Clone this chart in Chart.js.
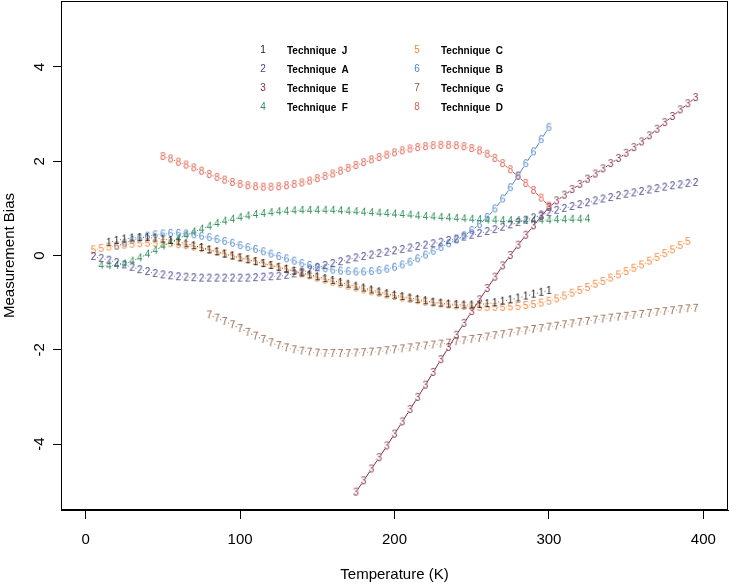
<!DOCTYPE html>
<html>
<head>
<meta charset="utf-8">
<script src="https://cdn.jsdelivr.net/npm/chart.js@4.4.0/dist/chart.umd.min.js"></script>
<style>
  html, body { margin: 0; padding: 0; background: #fff; }
  #wrap { position: relative; width: 729px; height: 586px; }
  #legend { position: absolute; left: 0; top: 0; font-family: "Liberation Sans", Arial, sans-serif; }
  .sym { position: absolute; font-size: 10px; line-height: 12px; width: 10px; text-align: center; }
  .lab { position: absolute; font-size: 10px; line-height: 12px; font-weight: bold; color: #000; white-space: pre; }
</style>
</head>
<body>
<div id="wrap">
  <canvas id="biasChart" width="729" height="586"></canvas>
  <div id="legend"></div>
</div>
<script>
// temperature grid (K) shared by all techniques
var tempK = [5, 10, 15, 20, 25, 30, 35, 40, 45, 50, 55, 60, 65, 70, 75, 80, 85, 90, 95, 100,
  105, 110, 115, 120, 125, 130, 135, 140, 145, 150, 155, 160, 165, 170, 175, 180, 185, 190, 195, 200,
  205, 210, 215, 220, 225, 230, 235, 240, 245, 250, 255, 260, 265, 270, 275, 280, 285, 290, 295, 300,
  305, 310, 315, 320, 325, 330, 335, 340, 345, 350, 355, 360, 365, 370, 375, 380, 385, 390, 395];

var names   = ['Technique J', 'Technique A', 'Technique E', 'Technique F',
               'Technique C', 'Technique B', 'Technique G', 'Technique D'];
var symbols = ['1', '2', '3', '4', '5', '6', '7', '8'];
var colors  = ['#222222', '#44448c', '#82294a', '#2f8f5a', '#f2873a', '#4a84cc', '#8e5b3d', '#df5e4c'];
var firstK  = [15, 5, 175, 10, 5, 20, 80, 50];

var biasJ = [0.28, 0.32, 0.35, 0.37, 0.38, 0.38, 0.37, 0.35, 0.32, 0.29,
  0.25, 0.21, 0.17, 0.12, 0.08, 0.03, -0.01, -0.05, -0.09, -0.13,
  -0.17, -0.21, -0.25, -0.29, -0.33, -0.37, -0.41, -0.45, -0.49, -0.53,
  -0.57, -0.61, -0.65, -0.69, -0.73, -0.77, -0.81, -0.84, -0.87, -0.9,
  -0.93, -0.96, -0.99, -1.01, -1.03, -1.04, -1.05, -1.05, -1.04, -1.02,
  -1.0, -0.97, -0.94, -0.9, -0.86, -0.82, -0.78, -0.74];

var biasA = [-0.02, -0.06, -0.1, -0.15, -0.2, -0.25, -0.3, -0.34, -0.38, -0.41,
  -0.43, -0.45, -0.46, -0.47, -0.48, -0.48, -0.48, -0.48, -0.48, -0.48,
  -0.48, -0.47, -0.46, -0.45, -0.44, -0.42, -0.39, -0.35, -0.31, -0.26,
  -0.21, -0.17, -0.13, -0.09, -0.05, -0.02, 0.01, 0.04, 0.07, 0.1,
  0.13, 0.16, 0.19, 0.22, 0.25, 0.28, 0.32, 0.35, 0.39, 0.43,
  0.47, 0.51, 0.55, 0.6, 0.65, 0.7, 0.75, 0.8, 0.86, 0.91,
  0.96, 1.0, 1.04, 1.08, 1.12, 1.16, 1.2, 1.23, 1.27, 1.3,
  1.33, 1.36, 1.39, 1.42, 1.45, 1.48, 1.5, 1.53, 1.55];

var biasE = [-5.02, -4.78, -4.53, -4.29, -4.04, -3.79, -3.53, -3.27, -3.01, -2.75,
  -2.48, -2.21, -1.95, -1.69, -1.44, -1.19, -0.94, -0.7, -0.46, -0.22,
  0.0, 0.22, 0.43, 0.63, 0.83, 1.02, 1.16, 1.28, 1.4, 1.51,
  1.62, 1.73, 1.84, 1.95, 2.06, 2.17, 2.29, 2.41, 2.54, 2.68,
  2.82, 2.95, 3.09, 3.22, 3.35];

var biasF = [-0.21, -0.22, -0.21, -0.18, -0.12, -0.05, 0.03, 0.11, 0.2, 0.28,
  0.36, 0.43, 0.5, 0.56, 0.62, 0.68, 0.73, 0.77, 0.81, 0.84,
  0.87, 0.89, 0.91, 0.93, 0.94, 0.95, 0.96, 0.96, 0.96, 0.96,
  0.96, 0.95, 0.94, 0.93, 0.92, 0.91, 0.9, 0.89, 0.88, 0.87,
  0.86, 0.84, 0.83, 0.82, 0.81, 0.8, 0.79, 0.78, 0.77, 0.76,
  0.75, 0.75, 0.74, 0.74, 0.74, 0.74, 0.74, 0.75, 0.75, 0.76,
  0.76, 0.77, 0.77, 0.78];

var biasC = [0.12, 0.15, 0.18, 0.2, 0.22, 0.24, 0.25, 0.26, 0.26, 0.26,
  0.25, 0.23, 0.21, 0.18, 0.15, 0.11, 0.07, 0.03, -0.01, -0.05,
  -0.09, -0.13, -0.17, -0.21, -0.25, -0.3, -0.34, -0.39, -0.43, -0.48,
  -0.52, -0.57, -0.61, -0.65, -0.69, -0.73, -0.77, -0.8, -0.84, -0.87,
  -0.9, -0.93, -0.96, -0.99, -1.01, -1.03, -1.05, -1.07, -1.08, -1.09,
  -1.1, -1.1, -1.1, -1.1, -1.09, -1.08, -1.06, -1.04, -1.01, -0.97,
  -0.92, -0.86, -0.8, -0.74, -0.68, -0.61, -0.55, -0.48, -0.41, -0.34,
  -0.27, -0.2, -0.12, -0.04, 0.04, 0.12, 0.21, 0.3];

var biasB = [0.2, 0.26, 0.32, 0.37, 0.41, 0.44, 0.46, 0.47, 0.47, 0.46,
  0.44, 0.41, 0.38, 0.34, 0.3, 0.26, 0.21, 0.17, 0.13, 0.08,
  0.03, -0.02, -0.07, -0.12, -0.17, -0.21, -0.25, -0.28, -0.31, -0.33,
  -0.34, -0.35, -0.35, -0.34, -0.32, -0.29, -0.25, -0.2, -0.14, -0.07,
  0.01, 0.09, 0.17, 0.25, 0.33, 0.42, 0.53, 0.66, 0.81, 0.99,
  1.2, 1.44, 1.69, 1.95, 2.2, 2.46, 2.72];

var biasG = [-1.26, -1.33, -1.4, -1.47, -1.55, -1.63, -1.71, -1.78, -1.85, -1.91,
  -1.96, -2.0, -2.03, -2.05, -2.07, -2.08, -2.08, -2.08, -2.08, -2.07,
  -2.06, -2.05, -2.04, -2.02, -2.0, -1.98, -1.96, -1.94, -1.92, -1.9,
  -1.88, -1.86, -1.83, -1.81, -1.78, -1.76, -1.73, -1.7, -1.68, -1.65,
  -1.62, -1.6, -1.57, -1.55, -1.52, -1.5, -1.47, -1.45, -1.42, -1.4,
  -1.37, -1.35, -1.33, -1.31, -1.29, -1.27, -1.25, -1.23, -1.21, -1.19,
  -1.17, -1.15, -1.13, -1.12];

var biasD = [2.1, 2.05, 1.98, 1.92, 1.86, 1.79, 1.72, 1.66, 1.6, 1.55,
  1.51, 1.48, 1.46, 1.45, 1.45, 1.46, 1.48, 1.51, 1.54, 1.58,
  1.63, 1.68, 1.73, 1.79, 1.85, 1.91, 1.97, 2.03, 2.08, 2.13,
  2.18, 2.22, 2.26, 2.29, 2.31, 2.33, 2.34, 2.34, 2.33, 2.31,
  2.27, 2.22, 2.15, 2.06, 1.95, 1.82, 1.68, 1.53, 1.38, 1.22,
  1.05];

var series = [biasJ, biasA, biasE, biasF, biasC, biasB, biasG, biasD];

var FONT = '"Liberation Sans", Arial, Helvetica, sans-serif';
var GAP = 3.6;   // gap left around each digit, like R type="b"

Chart.defaults.font.family = FONT;

// digit used as the point marker
function digitMarker(ch, color) {
  var c = document.createElement('canvas');
  c.width = 9; c.height = 11;
  var g = c.getContext('2d');
  g.font = '10px ' + FONT;
  g.fillStyle = color;
  g.textAlign = 'center';
  g.textBaseline = 'middle';
  g.fillText(ch, 4.5, 6);
  return c;
}

var datasets = series.map(function (vals, k) {
  var start = tempK.indexOf(firstK[k]);
  return {
    label: names[k],
    data: vals.map(function (v, i) { return {x: tempK[start + i], y: v}; }),
    borderColor: colors[k],
    backgroundColor: colors[k],
    pointStyle: digitMarker(symbols[k], colors[k]),
    pointRadius: 5,
    showLine: false
  };
});

// short connecting segments between markers
var gapLines = {
  id: 'gapLines',
  beforeDatasetsDraw: function (chart) {
    var ctx = chart.ctx;
    ctx.save();
    ctx.lineWidth = 1;
    chart.data.datasets.forEach(function (ds, k) {
      var pts = chart.getDatasetMeta(k).data;
      ctx.strokeStyle = ds.borderColor;
      ctx.beginPath();
      for (var i = 1; i < pts.length; i++) {
        var a = pts[i - 1], b = pts[i];
        var dx = b.x - a.x, dy = b.y - a.y, d = Math.hypot(dx, dy);
        if (d <= 2 * GAP + 0.5) continue;
        var ux = dx / d, uy = dy / d;
        ctx.moveTo(a.x + ux * GAP, a.y + uy * GAP);
        ctx.lineTo(b.x - ux * GAP, b.y - uy * GAP);
      }
      ctx.stroke();
    });
    ctx.restore();
  }
};

// box round the plot area
var plotBox = {
  id: 'plotBox',
  afterDraw: function (chart) {
    var a = chart.chartArea, ctx = chart.ctx;
    ctx.save();
    ctx.strokeStyle = '#000';
    ctx.lineWidth = 1;
    ctx.strokeRect(Math.round(a.left) + 0.5, Math.round(a.top) + 0.5,
      Math.round(a.right - a.left) - 1, Math.round(a.bottom - a.top) - 1);
    ctx.restore();
  }
};

var biasChart = new Chart(document.getElementById('biasChart').getContext('2d'), {
  type: 'scatter',
  data: { datasets: datasets },
  plugins: [gapLines, plotBox],
  options: {
    responsive: false,
    animation: false,
    events: [],
    layout: { autoPadding: false, padding: { top: 1, right: 1, left: 0, bottom: 0 } },
    plugins: { legend: { display: false }, tooltip: { enabled: false } },
    scales: {
      x: {
        type: 'linear', min: -16, max: 416,
        afterFit: function (s) { s.height = 76; s.paddingLeft = 0; s.paddingRight = 0; },
        ticks: { stepSize: 100, includeBounds: false, color: '#000', font: { size: 15 }, padding: 12, maxRotation: 0 },
        grid: { display: true, drawOnChartArea: false, drawTicks: true, tickLength: 9, color: '#000', tickColor: '#000' },
        border: { display: true, color: '#000' },
        title: { display: true, text: 'Temperature (K)', color: '#000', font: { size: 15 }, padding: { top: 0, bottom: 2 } }
      },
      y: {
        type: 'linear', min: -5.4, max: 5.4,
        afterFit: function (s) { s.width = 61; s.paddingTop = 0; s.paddingBottom = 0; },
        ticks: { stepSize: 2, includeBounds: false, color: '#000', font: { size: 15 }, padding: 6,
                 minRotation: 90, maxRotation: 90, crossAlign: 'center' },
        grid: { display: true, drawOnChartArea: false, drawTicks: true, tickLength: 8, color: '#000', tickColor: '#000' },
        border: { display: true, color: '#000' },
        title: { display: true, text: 'Measurement Bias', color: '#000', font: { size: 15 }, padding: { top: 1, bottom: 0 } }
      }
    }
  }
});

// two-column legend, as in the original figure
var legend = document.getElementById('legend');
var symX = [263, 417], labX = [287, 441], rowY = [51, 70, 89, 108];
names.forEach(function (n, k) {
  var col = Math.floor(k / 4), row = k % 4;
  var s = document.createElement('div');
  s.className = 'sym';
  s.style.left = (symX[col] - 5) + 'px';
  s.style.top = (rowY[row] - 7) + 'px';
  s.style.color = colors[k];
  s.textContent = symbols[k];
  legend.appendChild(s);
  var t = document.createElement('div');
  t.className = 'lab';
  t.style.left = labX[col] + 'px';
  t.style.top = (rowY[row] - 6) + 'px';
  t.textContent = n.replace(' ', '  ');
  legend.appendChild(t);
});
</script>
</body>
</html>
